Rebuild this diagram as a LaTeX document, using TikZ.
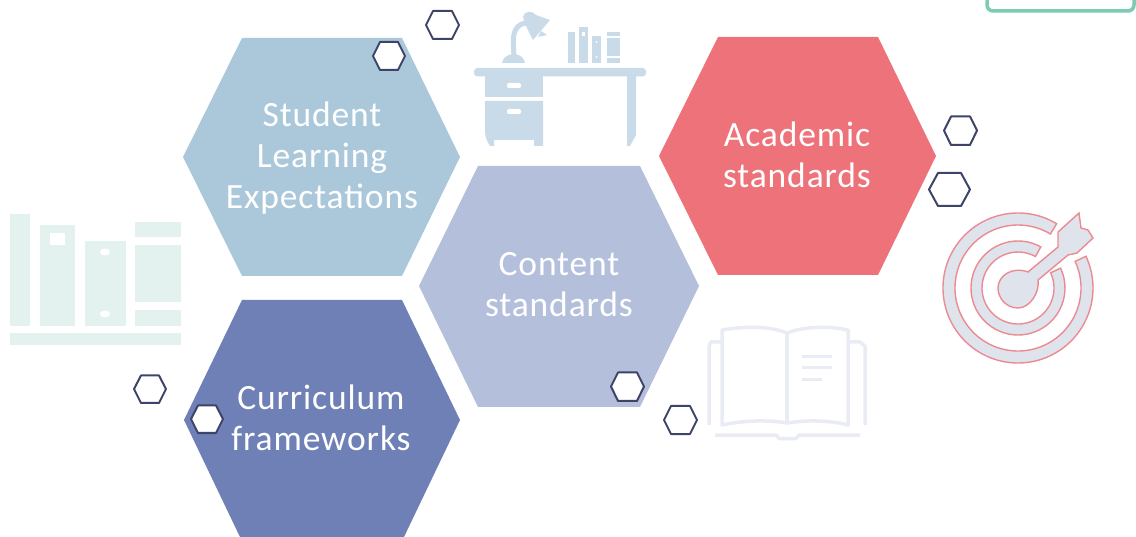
\documentclass[tikz,border=0pt]{standalone}
\usepackage{fontspec}
\setmainfont[LetterSpace=2.5]{Carlito}
\definecolor{hexblue}{HTML}{ABC8DB}
\definecolor{hexred}{HTML}{ED727A}
\definecolor{hexlav}{HTML}{B4BFDB}
\definecolor{hexindigo}{HTML}{6F80B6}
\definecolor{outl}{HTML}{3E4468}
\definecolor{shelfc}{HTML}{E3F2EE}
\definecolor{deskc}{HTML}{C9DBE8}
\definecolor{bookc}{HTML}{E9ECF4}
\definecolor{targf}{HTML}{DFE3EC}
\definecolor{targl}{HTML}{EC8A93}
\definecolor{boxg}{HTML}{7CCBB4}
\tikzset{
  hexlabel/.style={text=white,align=center,font=\fontsize{35.5}{41}\selectfont,inner sep=0pt},
  minihex/.style={draw=outl,line width=2pt,fill=white,line join=round},
  shelfpart/.style={fill=shelfc,draw=none},
  deskpart/.style={fill=deskc,draw=none},
  holepart/.style={fill=white,draw=none},
  bookline/.style={draw=bookc,line width=3.5pt,line join=round,fill=none},
  targetpart/.style={fill=targf,draw=targl,line width=1.4pt,line join=miter}
}
\begin{document}
\begin{tikzpicture}[x=1pt,y=-1pt]
\useasboundingbox (0,0) rectangle (1136,537);
% green box
\begin{scope}
\clip (0,0) rectangle (1136,537);
\draw[boxg,line width=3.5pt,fill=white,rounded corners=6pt] (987,-20) rectangle (1134,11);
\end{scope}
% shelf of books
\fill[shelfpart] (10,214) rectangle (30,326);
\fill[shelfpart] (40,225) rectangle (75,326);
\fill[holepart] (50,233) rectangle (65,245);
\fill[shelfpart] (85,241) rectangle (126,326);
\fill[holepart] (105,252) ellipse (5 and 3.5);
\fill[holepart] (105,314) ellipse (5 and 3.5);
\fill[shelfpart] (135,222) rectangle (181,237);
\fill[shelfpart] (135,245) rectangle (181,302);
\fill[shelfpart] (135,310) rectangle (181,326);
\fill[shelfpart] (10,333) rectangle (181,345);
% desk
\fill[deskpart,rounded corners=3.5pt] (474,68) rectangle (646,76.5);
\fill[deskpart] (485,76) rectangle (543,97);
\fill[deskpart] (485,101) -- (543,101) -- (543,146) -- (534,146) -- (534,140) -- (494,140) -- (494,146) -- (490,146) .. controls (486,140) and (485,136) .. (485,130) -- cycle;
\fill[deskpart] (627,76) -- (636,76) -- (636,135) -- (630,146) -- (627,146) -- cycle;
\fill[holepart,rounded corners=2pt] (507,83) rectangle (521,88);
\fill[holepart,rounded corners=2pt] (507,109) rectangle (521,114);
% lamp
\fill[deskpart] (502,63) .. controls (503,57) and (509,54) .. (513,54) .. controls (519,54) and (524,57) .. (525,63) -- cycle;
\draw[deskc,line width=5pt] (514,56) .. controls (513,40) and (511,25) .. (526,23);
\fill[deskpart] (523,17) .. controls (524,11) and (532,10) .. (536,15) -- (550,20) -- (533,40) .. controls (529,32) and (525,25) .. (523,17) -- cycle;
\fill[deskpart] (541,31) -- (547,35) -- (538,37) -- cycle;
% desk books
\fill[deskpart] (568,32) rectangle (575,63);
\fill[deskpart] (579,27) rectangle (588,63);
\fill[holepart] (582,32) rectangle (585,36);
\fill[deskpart] (592,36) rectangle (601,63);
\fill[holepart] (596.5,42) circle (1);
\fill[holepart] (596.5,57) circle (1);
\fill[deskpart] (607,32) rectangle (620,36);
\fill[deskpart] (607,38) rectangle (620,56);
\fill[deskpart] (607,58) rectangle (620,63);
% open book
\draw[bookline] (722,425) -- (722,330) .. controls (745,326) and (770,326) .. (787,333) .. controls (805,326) and (830,326) .. (848,330) -- (848,425) .. controls (830,420) and (805,420) .. (787,423) .. controls (770,420) and (745,420) .. (722,425) -- cycle;
\draw[bookline] (787,333) -- (787,423);
\draw[bookline] (722,342) -- (711,342) -- (709,346) -- (709,425);
\draw[bookline] (848,342) -- (860,342) -- (865,346) -- (865,425);
\draw[bookline] (715,435) -- (776,435) -- (779,438.5) -- (796,438.5) -- (799,435) -- (860,435);
\draw[bookline,line width=3pt] (802,357) -- (832,357);
\draw[bookline,line width=3pt] (802,368) -- (832,368);
\draw[bookline,line width=3pt] (802,380) -- (822,380);
% target
\path[targetpart] (1018,288) ++(-59:75) arc (-59:-385:75) -- ++(-205:12) arc (-385:-59:63) -- cycle;
\path[targetpart] (1018,288) ++(-61:47) arc (-61:-385:47) -- ++(-205:11) arc (-385:-61:36) -- cycle;
\path[targetpart] (1028,272) -- (1058,247) -- (1058,232) -- (1079,213) -- (1081,228) -- (1088,230) -- (1093,238) -- (1077,253) -- (1068,255) -- (1038,280) .. controls (1040,292) and (1030,308) .. (1018,308) .. controls (1006,308) and (998,298) .. (998,288) .. controls (998,276) and (1012,266) .. (1028,272) -- cycle;
% large hexagons
\fill[hexblue] (183,157) -- (242,38) -- (402,38) -- (460,157) -- (402,276) -- (242,276) -- cycle;
\fill[hexred] (659,156) -- (718,37) -- (878,37) -- (936,156) -- (878,275) -- (718,275) -- cycle;
\fill[hexlav] (419,286) -- (478,166) -- (640,166) -- (699,286) -- (640,407) -- (478,407) -- cycle;
\fill[hexindigo] (184,420) -- (242,300) -- (402,300) -- (460,420) -- (404,537) -- (240,537) -- cycle;
% labels
\node[hexlabel] (student) at (322,158) {Student\\Learning\\Expectations};
\node[hexlabel] (academic) at (797,155) {Academic\\standards};
\node[hexlabel] (content) at (559,285) {Content\\standards};
\node[hexlabel] (curriculum) at (321,418) {Curriculum\\frameworks};
% small hexagons
\path[minihex] (426,25) -- (433,11) -- (452,11) -- (459,25) -- (452,39) -- (433,39) -- cycle;
\path[minihex] (373,56) -- (380,42) -- (398,42) -- (405,56) -- (398,70) -- (380,70) -- cycle;
\path[minihex] (134,389) -- (141,375.5) -- (159,375.5) -- (166,389) -- (159,403) -- (141,403) -- cycle;
\path[minihex] (191,419) -- (198,405.5) -- (216,405.5) -- (223,419) -- (216,433) -- (198,433) -- cycle;
\path[minihex] (944,130.5) -- (951,116.5) -- (970,116.5) -- (977,130.5) -- (970,145) -- (951,145) -- cycle;
\path[minihex] (929,189.5) -- (938,173) -- (961,173) -- (970,189.5) -- (961,206) -- (938,206) -- cycle;
\path[minihex] (611,386.5) -- (618,372.5) -- (637,372.5) -- (644,386.5) -- (637,401) -- (618,401) -- cycle;
\path[minihex] (664,420) -- (671,406) -- (690,406) -- (697,420) -- (690,434) -- (671,434) -- cycle;
\end{tikzpicture}
\end{document}
